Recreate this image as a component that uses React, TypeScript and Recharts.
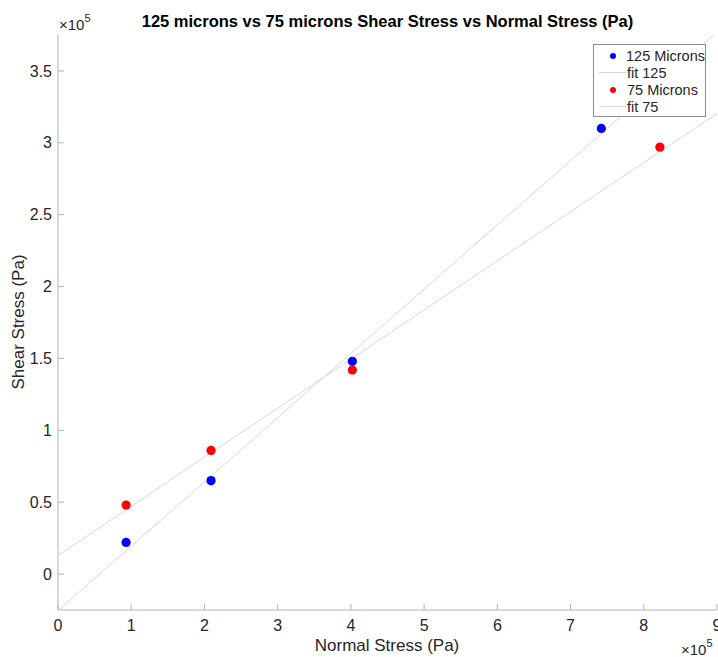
import { ScatterChart, Scatter, XAxis, YAxis, Label } from 'recharts';

// values in Pa (axes are in units of 1e5)
const normal125 = [93000, 209000, 402000, 742000];
const shear125 = [22000, 65000, 148000, 310000];
const normal75 = [93000, 209000, 402000, 822000];
const shear75 = [48000, 86000, 142000, 297000];

// linear fits, taken at both ends of the x axis
const fitX = [0, 900000];
const fit125Y = [-25400, 377100];
const fit75Y = [12900, 320400];

const xTicks = [0, 100000, 200000, 300000, 400000, 500000, 600000, 700000, 800000, 900000];
const yTicks = [0, 50000, 100000, 150000, 200000, 250000, 300000, 350000];

const toPoints = (xs: number[], ys: number[]) => xs.map((x, i) => ({ x, y: ys[i] }));

const pts125 = toPoints(normal125, shear125);
const pts75 = toPoints(normal75, shear75);
const fit125 = toPoints(fitX, fit125Y);
const fit75 = toPoints(fitX, fit75Y);

const FONT = '"Liberation Sans", Arial, Helvetica, sans-serif';
const AXIS = '#b3b3b3';
const TEXT = '#262626';
const FIT = '#d9d9d9';

const fmt = (v: number) => String(Math.round(v / 1e4) / 10);

const Dot = (props: any) => {
  const { cx, cy, fill } = props;
  if (cx == null || cy == null) return <g />;
  return <circle cx={cx} cy={cy} r={4.6} fill={fill} />;
};

const Exp = ({ left, top }: { left: number; top: number }) => (
  <div style={{ position: 'absolute', left, top, fontFamily: FONT, fontSize: 15, color: TEXT, whiteSpace: 'nowrap' }}>
    ×10<sup style={{ fontSize: 11, verticalAlign: 'top', position: 'relative', top: -4 }}>5</sup>
  </div>
);

const legendRows = [
  { label: '125 Microns', kind: 'dot', color: '#0000ff' },
  { label: 'fit 125', kind: 'line', color: FIT },
  { label: '75 Microns', kind: 'dot', color: '#ff0000' },
  { label: 'fit 75', kind: 'line', color: FIT },
];

export default function App() {
  return (
    <div style={{ position: 'absolute', left: 0, top: 0, width: 718, height: 657, background: '#fff', overflow: 'hidden' }}>
      <div
        style={{
          position: 'absolute',
          left: 58,
          width: 659,
          top: 12,
          textAlign: 'center',
          fontFamily: FONT,
          fontWeight: 'bold',
          fontSize: 16.5,
          color: '#000',
        }}
      >
        125 microns vs 75 microns Shear Stress vs Normal Stress (Pa)
      </div>
      <ScatterChart width={718} height={657} margin={{ top: 35, right: 1, bottom: 0, left: 0 }}>
        <XAxis
          type="number"
          dataKey="x"
          domain={[0, 900000]}
          ticks={xTicks}
          tickFormatter={fmt}
          allowDataOverflow
          height={47}
          stroke={AXIS}
          tickSize={-6}
          tickMargin={16}
          tick={{ fill: TEXT, fontSize: 16, fontFamily: FONT }}
          interval={0}
        >
          <Label
            content={() => (
              <text x={387} y={651} textAnchor="middle" fontSize={17} fontFamily={FONT} fill={TEXT}>
                Normal Stress (Pa)
              </text>
            )}
          />
        </XAxis>
        <YAxis
          type="number"
          dataKey="y"
          domain={[-25000, 375000]}
          ticks={yTicks}
          tickFormatter={fmt}
          allowDataOverflow
          width={58}
          stroke={AXIS}
          tickSize={-6}
          tickMargin={12}
          tick={{ fill: TEXT, fontSize: 16, fontFamily: FONT }}
          interval={0}
        >
          <Label
            content={() => (
              <text
                x={24}
                y={322}
                transform="rotate(-90 24 322)"
                textAnchor="middle"
                fontSize={17}
                fontFamily={FONT}
                fill={TEXT}
              >
                Shear Stress (Pa)
              </text>
            )}
          />
        </YAxis>
        <Scatter data={fit125} line={{ stroke: FIT, strokeWidth: 1 }} shape={() => <g />} isAnimationActive={false} />
        <Scatter data={fit75} line={{ stroke: FIT, strokeWidth: 1 }} shape={() => <g />} isAnimationActive={false} />
        <Scatter data={pts125} fill="#0000ff" shape={Dot} isAnimationActive={false} />
        <Scatter data={pts75} fill="#ff0000" shape={Dot} isAnimationActive={false} />
      </ScatterChart>
      <Exp left={59} top={16} />
      <Exp left={681} top={641} />
      <div
        style={{
          position: 'absolute',
          left: 593,
          top: 44,
          width: 113,
          height: 73,
          border: '1px solid #8c8c8c',
          background: '#fff',
          fontFamily: FONT,
          fontSize: 14.5,
          color: TEXT,
          paddingTop: 2,
          boxSizing: 'border-box',
        }}
      >
        {legendRows.map((r) => (
          <div key={r.label} style={{ height: 17, display: 'flex', alignItems: 'center' }}>
            <div style={{ width: 33, display: 'flex', justifyContent: 'center', alignItems: 'center' }}>
              {r.kind === 'dot' ? (
                <div style={{ width: 6, height: 6, borderRadius: 3, background: r.color, marginLeft: 5 }} />
              ) : (
                <div style={{ width: 28, height: 1, background: r.color, marginLeft: 4 }} />
              )}
            </div>
            <span style={{ whiteSpace: 'nowrap' }}>{r.label}</span>
          </div>
        ))}
      </div>
    </div>
  );
}
